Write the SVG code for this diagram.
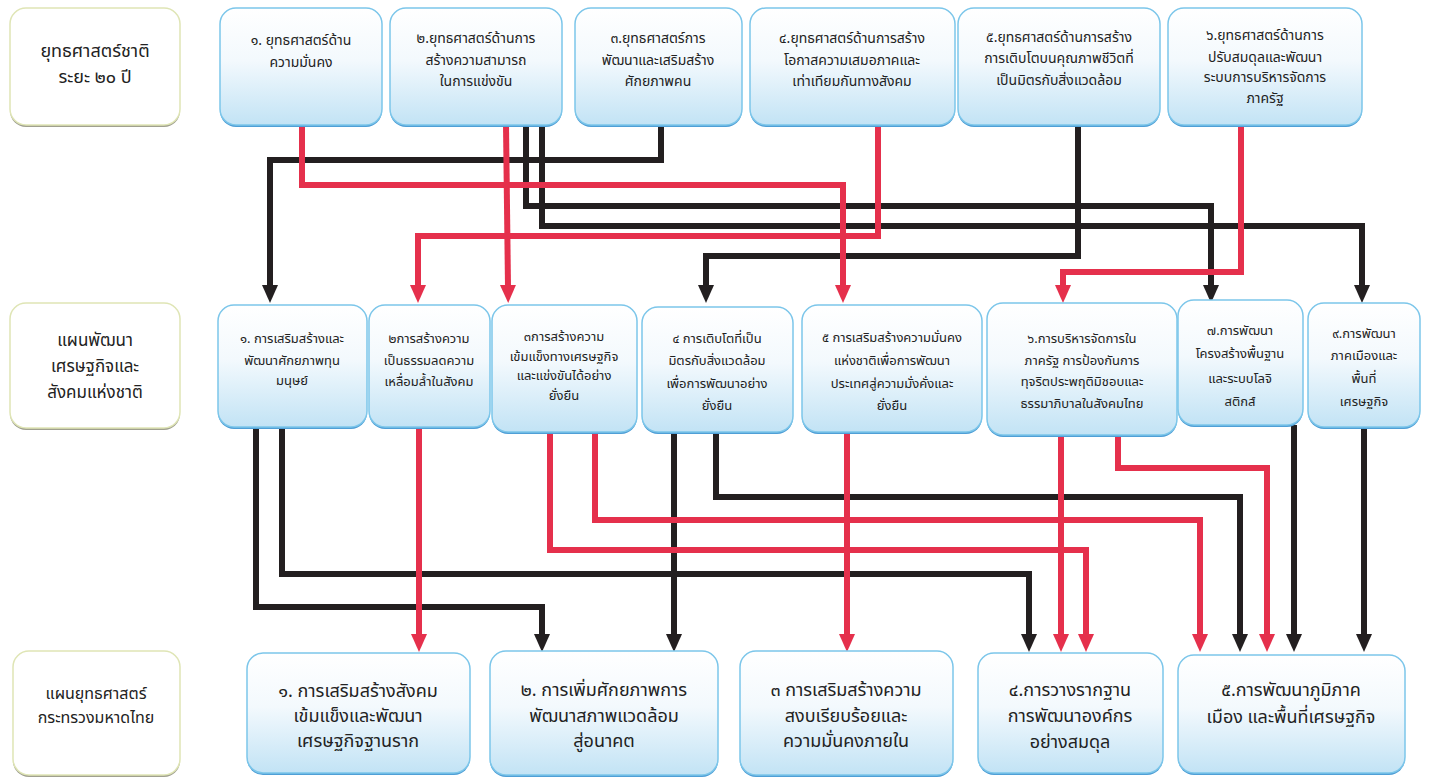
<svg xmlns="http://www.w3.org/2000/svg" width="1431" height="780" viewBox="0 0 1431 780">
<style>
.bx{fill:url(#gb);stroke:#7cc6ea;stroke-width:1.5}
.bs{fill:#4f9fd6}
.lb{fill:#ffffff;stroke:#dfe5b5;stroke-width:1.5}
.ls{fill:#a0a090}
text{font-family:'Noto Sans Thai','Noto Sans','DejaVu Sans',sans-serif;fill:#222;text-anchor:middle}
.t1{font-size:14px}
.t2{font-size:13px}
.t3{font-size:18px}
.tl{font-size:18px}
.tm{font-size:17px}
.k{fill:none;stroke:#231f20;stroke-width:6;marker-end:url(#ak)}
.r{fill:none;stroke:#e5304c;stroke-width:6;marker-end:url(#ar)}
</style>
<defs>
<linearGradient id="gb" x1="0" y1="0" x2="0" y2="1">
<stop offset="0" stop-color="#ffffff"/><stop offset="0.45" stop-color="#f3f9fd"/><stop offset="1" stop-color="#c2e3f5"/>
</linearGradient>
<marker id="ak" markerUnits="userSpaceOnUse" markerWidth="18" markerHeight="18" viewBox="0 0 18 18" refX="2" refY="9" orient="auto"><path d="M0,1 L18,9 L0,17 z" fill="#231f20"/></marker>
<marker id="ar" markerUnits="userSpaceOnUse" markerWidth="18" markerHeight="18" viewBox="0 0 18 18" refX="2" refY="9" orient="auto"><path d="M0,1 L18,9 L0,17 z" fill="#e5304c"/></marker>
</defs>
<rect width="1431" height="780" fill="#ffffff"/>

<g id="connectors">
<path class="k" d="M661,125 V160 H270 V287"/>
<path class="k" d="M526,125 V206 H1211 V287"/>
<path class="k" d="M542,125 V226 H1362 V287"/>
<path class="k" d="M1078,125 V256 H706 V287"/>
<path class="r" d="M302,125 V185 H843 V287"/>
<path class="r" d="M506,125 L508,287"/>
<path class="r" d="M878,125 V236 H418 V287"/>
<path class="r" d="M1241,125 V272 H1063 V287"/>
<path class="k" d="M256,427 V607 H542 V636"/>
<path class="k" d="M282,427 V574 H1029 V636"/>
<path class="k" d="M674,432 V636"/>
<path class="k" d="M716,432 V497 H1240 V636"/>
<path class="k" d="M1294,425 V636"/>
<path class="k" d="M1364,427 V636"/>
<path class="r" d="M419,427 V636"/>
<path class="r" d="M550,432 V550 H1086 V636"/>
<path class="r" d="M595,432 V520 H1200 V636"/>
<path class="r" d="M847,432 V636"/>
<path class="r" d="M1061,435 V636"/>
<path class="r" d="M1118,435 V468 H1267 V636"/>
</g>

<g id="label1"><rect class="ls" x="10" y="10" width="170" height="117" rx="16"/><rect class="lb" x="10" y="8" width="170" height="117" rx="16"/>
<text class="tl" x="95" y="57">ยุทธศาสตร์ชาติ</text><text class="tl" x="95" y="83">ระยะ ๒๐ ปี</text></g>
<g id="t1"><rect class="bs" x="220" y="10" width="162" height="117" rx="16"/><rect class="bx" x="220" y="8" width="162" height="117" rx="16"/>
<text class="t1" x="301" y="45">๑. ยุทธศาสตร์ด้าน</text><text class="t1" x="301" y="67">ความมั่นคง</text></g>
<g id="t2"><rect class="bs" x="390" y="10" width="172" height="117" rx="16"/><rect class="bx" x="390" y="8" width="172" height="117" rx="16"/>
<text class="t1" x="476" y="43">๒.ยุทธศาสตร์ด้านการ</text><text class="t1" x="476" y="65">สร้างความสามารถ</text><text class="t1" x="476" y="86">ในการแข่งขัน</text></g>
<g id="t3"><rect class="bs" x="575" y="10" width="167" height="117" rx="16"/><rect class="bx" x="575" y="8" width="167" height="117" rx="16"/>
<text class="t1" x="658" y="43">๓.ยุทธศาสตร์การ</text><text class="t1" x="658" y="65">พัฒนาและเสริมสร้าง</text><text class="t1" x="658" y="86">ศักยภาพคน</text></g>
<g id="t4"><rect class="bs" x="750" y="10" width="205" height="117" rx="16"/><rect class="bx" x="750" y="8" width="205" height="117" rx="16"/>
<text class="t1" x="852" y="43">๔.ยุทธศาสตร์ด้านการสร้าง</text><text class="t1" x="852" y="65">โอกาสความเสมอภาคและ</text><text class="t1" x="852" y="86">เท่าเทียมกันทางสังคม</text></g>
<g id="t5"><rect class="bs" x="958" y="10" width="202" height="117" rx="16"/><rect class="bx" x="958" y="8" width="202" height="117" rx="16"/>
<text class="t1" x="1059" y="42">๕.ยุทธศาสตร์ด้านการสร้าง</text><text class="t1" x="1059" y="63">การเติบโตบนคุณภาพชีวิตที่</text><text class="t1" x="1059" y="85">เป็นมิตรกับสิ่งแวดล้อม</text></g>
<g id="t6"><rect class="bs" x="1168" y="10" width="194" height="117" rx="16"/><rect class="bx" x="1168" y="8" width="194" height="117" rx="16"/>
<text class="t1" x="1265" y="40">๖.ยุทธศาสตร์ด้านการ</text><text class="t1" x="1265" y="62">ปรับสมดุลและพัฒนา</text><text class="t1" x="1265" y="82">ระบบการบริหารจัดการ</text><text class="t1" x="1265" y="103">ภาครัฐ</text></g>

<g id="label2"><rect class="ls" x="10" y="305" width="170" height="125" rx="16"/><rect class="lb" x="10" y="303" width="170" height="125" rx="16"/>
<text class="tm" x="95" y="346">แผนพัฒนา</text><text class="tm" x="95" y="372">เศรษฐกิจและ</text><text class="tm" x="95" y="398">สังคมแห่งชาติ</text></g>
<g id="p1"><rect class="bs" x="218" y="307" width="149" height="122" rx="16"/><rect class="bx" x="218" y="305" width="149" height="122" rx="16"/>
<text class="t2" x="292" y="343">๑. การเสริมสร้างและ</text><text class="t2" x="292" y="365">พัฒนาศักยภาพทุน</text><text class="t2" x="292" y="385">มนุษย์</text></g>
<g id="p2"><rect class="bs" x="369" y="307" width="121" height="122" rx="16"/><rect class="bx" x="369" y="305" width="121" height="122" rx="16"/>
<text class="t2" x="429" y="343">๒การสร้างความ</text><text class="t2" x="429" y="365">เป็นธรรมลดความ</text><text class="t2" x="429" y="386">เหลื่อมล้ำในสังคม</text></g>
<g id="p3"><rect class="bs" x="492" y="307" width="145" height="127" rx="16"/><rect class="bx" x="492" y="305" width="145" height="127" rx="16"/>
<text class="t2" x="564" y="341">๓การสร้างความ</text><text class="t2" x="564" y="361">เข้มแข็งทางเศรษฐกิจ</text><text class="t2" x="564" y="380">และแข่งขันได้อย่าง</text><text class="t2" x="564" y="400">ยั่งยืน</text></g>
<g id="p4"><rect class="bs" x="642" y="309" width="151" height="125" rx="16"/><rect class="bx" x="642" y="307" width="151" height="125" rx="16"/>
<text class="t2" x="717" y="343">๔ การเติบโตที่เป็น</text><text class="t2" x="717" y="365">มิตรกับสิ่งแวดล้อม</text><text class="t2" x="717" y="388">เพื่อการพัฒนาอย่าง</text><text class="t2" x="717" y="410">ยั่งยืน</text></g>
<g id="p5"><rect class="bs" x="802" y="307" width="180" height="127" rx="16"/><rect class="bx" x="802" y="305" width="180" height="127" rx="16"/>
<text class="t2" x="892" y="342">๕ การเสริมสร้างความมั่นคง</text><text class="t2" x="892" y="365">แห่งชาติเพื่อการพัฒนา</text><text class="t2" x="892" y="388">ประเทศสู่ความมั่งคั่งและ</text><text class="t2" x="892" y="410">ยั่งยืน</text></g>
<g id="p6"><rect class="bs" x="987" y="305" width="190" height="132" rx="16"/><rect class="bx" x="987" y="303" width="190" height="132" rx="16"/>
<text class="t2" x="1082" y="343">๖.การบริหารจัดการใน</text><text class="t2" x="1082" y="365">ภาครัฐ การป้องกันการ</text><text class="t2" x="1082" y="386">ทุจริตประพฤติมิชอบและ</text><text class="t2" x="1082" y="408">ธรรมาภิบาลในสังคมไทย</text></g>
<g id="p7"><rect class="bs" x="1178" y="302" width="125" height="125" rx="16"/><rect class="bx" x="1178" y="300" width="125" height="125" rx="16"/>
<text class="t2" x="1240" y="335">๗.การพัฒนา</text><text class="t2" x="1240" y="358">โครงสร้างพื้นฐาน</text><text class="t2" x="1240" y="383">และระบบโลจิ</text><text class="t2" x="1240" y="406">สติกส์</text></g>
<g id="p8"><rect class="bs" x="1308" y="305" width="112" height="124" rx="16"/><rect class="bx" x="1308" y="303" width="112" height="124" rx="16"/>
<text class="t2" x="1364" y="338">๙.การพัฒนา</text><text class="t2" x="1364" y="360">ภาคเมืองและ</text><text class="t2" x="1364" y="383">พื้นที่</text><text class="t2" x="1364" y="406">เศรษฐกิจ</text></g>

<g id="label3"><rect class="ls" x="13" y="653" width="167" height="124" rx="16"/><rect class="lb" x="13" y="651" width="167" height="124" rx="16"/>
<text x="96" y="699" style="font-size:16px">แผนยุทธศาสตร์</text><text x="96" y="723" style="font-size:16px">กระทรวงมหาดไทย</text></g>
<g id="m1"><rect class="bs" x="247" y="655" width="223" height="120" rx="16"/><rect class="bx" x="247" y="653" width="223" height="120" rx="16"/>
<text class="t3" x="358" y="697">๑. การเสริมสร้างสังคม</text><text class="t3" x="358" y="722">เข้มแข็งและพัฒนา</text><text class="t3" x="358" y="747">เศรษฐกิจฐานราก</text></g>
<g id="m2"><rect class="bs" x="490" y="653" width="228" height="124" rx="16"/><rect class="bx" x="490" y="651" width="228" height="124" rx="16"/>
<text class="t3" x="604" y="696">๒. การเพิ่มศักยภาพการ</text><text class="t3" x="604" y="722">พัฒนาสภาพแวดล้อม</text><text class="t3" x="604" y="747">สู่อนาคต</text></g>
<g id="m3"><rect class="bs" x="740" y="653" width="213" height="124" rx="16"/><rect class="bx" x="740" y="651" width="213" height="124" rx="16"/>
<text class="t3" x="846" y="696">๓ การเสริมสร้างความ</text><text class="t3" x="846" y="722">สงบเรียบร้อยและ</text><text class="t3" x="846" y="747">ความมั่นคงภายใน</text></g>
<g id="m4"><rect class="bs" x="978" y="655" width="185" height="120" rx="16"/><rect class="bx" x="978" y="653" width="185" height="120" rx="16"/>
<text class="t3" x="1070" y="696">๔.การวางรากฐาน</text><text class="t3" x="1070" y="722">การพัฒนาองค์กร</text><text class="t3" x="1070" y="748">อย่างสมดุล</text></g>
<g id="m5"><rect class="bs" x="1178" y="657" width="227" height="118" rx="16"/><rect class="bx" x="1178" y="655" width="227" height="118" rx="16"/>
<text class="t3" x="1291" y="696">๕.การพัฒนาภูมิภาค</text><text class="t3" x="1291" y="723">เมือง และพื้นที่เศรษฐกิจ</text></g>
</svg>
